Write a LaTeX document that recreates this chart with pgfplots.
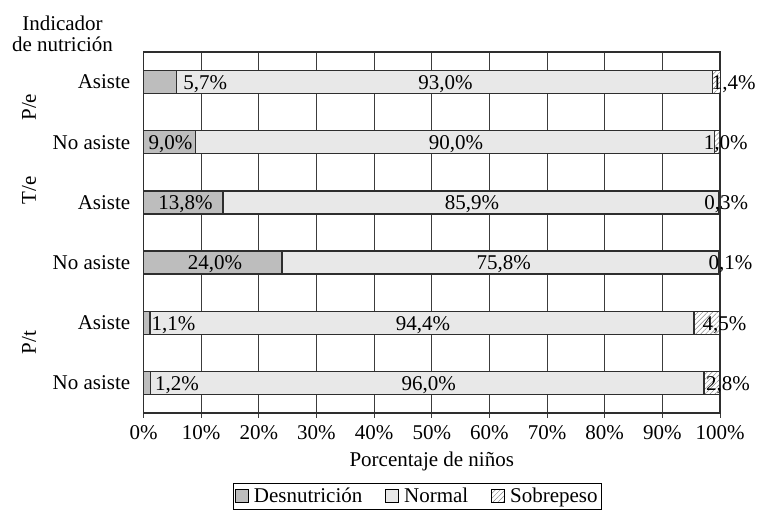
\documentclass[border=0pt]{standalone}
\usepackage{fontspec}
\setmainfont{Liberation Serif}
\usepackage{pgfplots}
\pgfplotsset{compat=1.18}
\usepackage{pgfplotstable}
\usetikzlibrary{patterns.meta}

\definecolor{desn}{HTML}{BDBDBD}
\definecolor{norm}{HTML}{E8E8E8}
\definecolor{borde}{HTML}{2E2E2E}
\definecolor{rejilla}{HTML}{3C3C3C}
\definecolor{rayas}{HTML}{8A8A8A}

% y: 5 = P/e Asiste (arriba) ... 0 = P/t No asiste (abajo)
\pgfplotstableread{
y desn norm sobre
5 5.7 93.0 1.4
4 9.0 90.0 1.0
3 13.8 85.9 0.3
2 24.0 75.8 0.1
1 1.1 94.4 4.5
0 1.2 96.0 2.8
}\datos

% posiciones de las etiquetas (x en %, y fila)
\pgfplotstableread{
x y lab
10.7 5 5,7
52.4 5 93,0
102.4 5 1,4
4.7 4 9,0
54.2 4 90,0
101.0 4 1,0
7.3 3 13,8
57.0 3 85,9
101.1 3 0,3
12.4 2 24,0
62.5 2 75,8
101.8 2 0,1
5.2 1 1,1
48.5 1 94,4
100.8 1 4,5
5.8 0 1,2
49.5 0 96,0
101.4 0 2,8
}\etiquetas

\begin{document}
\fontsize{21pt}{20pt}\selectfont
\begin{tikzpicture}
\begin{axis}[
    name=ax,
    width=576.5pt, height=361pt, scale only axis,
    xmin=0, xmax=100, ymin=-0.5, ymax=5.5,
    xbar stacked, bar width=23pt,
    clip=false,
    xtick={0,10,...,100},
    xticklabel={\pgfmathprintnumber{\tick}\%},
    /pgf/number format/assume math mode=true,
    xtick pos=bottom, xtick align=outside,
    major tick length=5pt,
    x tick style={draw=rejilla, line width=0.9pt},
    xmajorgrids,
    grid style={draw=rejilla, line width=0.9pt},
    ytick={0,...,5},
    yticklabels={No asiste,Asiste,No asiste,Asiste,No asiste,Asiste},
    y tick style={draw=none},
    yticklabel style={xshift=-6pt},
    axis line style={draw=borde, line width=1.2pt},
    xlabel={Porcentaje de niños},
    xlabel style={at={(axis description cs:0.5,-0.135)}, anchor=center},
    area legend,
    legend columns=3,
    legend style={at={(0.475,-0.194)}, anchor=north,
        draw=black, line width=0.8pt, inner sep=1.5pt,
        nodes={inner sep=2.5pt},
        /tikz/every odd column/.append style={column sep=3pt},
        /tikz/every even column/.append style={column sep=20pt}},
    legend image code/.code={\draw[#1, line width=0.8pt, draw=black] (0pt,-6.5pt) rectangle (13pt,6.5pt);},
]
\addplot[fill=desn, draw=borde, line width=1.4pt] table[x=desn, y=y] {\datos};
\addlegendentry{Desnutrición}
\addplot[fill=norm, draw=borde, line width=1.4pt] table[x=norm, y=y] {\datos};
\addlegendentry{Normal}
\addplot[fill=white, draw=borde, line width=1.4pt,
    postaction={pattern color=rayas, pattern={Lines[angle=45, distance=3.5pt, line width=0.5pt]}}]
    table[x=sobre, y=y] {\datos};
\addlegendentry{Sobrepeso}

\node[rotate=90] at ([xshift=-114.5pt]axis cs:0,4.583) {P/e};
\node[rotate=90] at ([xshift=-114.5pt]axis cs:0,3.2) {T/e};
\node[rotate=90] at ([xshift=-114.5pt]axis cs:0,0.667) {P/t};
\node[anchor=base] at ([xshift=-81pt, yshift=21pt]rel axis cs:0,1) {Indicador};
\node[anchor=base] at ([xshift=-81pt, yshift=0.3pt]rel axis cs:0,1) {de nutrición};
\end{axis}

\begin{axis}[
    at={(ax.south west)}, anchor=south west,
    width=576.5pt, height=361pt, scale only axis,
    xmin=0, xmax=100, ymin=-0.5, ymax=5.5,
    hide axis, clip=false,
]
\addplot[draw=none, mark=none, nodes near coords={\pgfplotspointmeta\%},
    point meta=explicit symbolic,
    nodes near coords style={anchor=center, inner sep=0pt, yshift=-2pt, text=black}]
    table[x=x, y=y, meta=lab] {\etiquetas};
\end{axis}

\pgfresetboundingbox
\path ([shift={(-143.5pt,-97pt)}]ax.south west) rectangle ([shift={(38pt,52pt)}]ax.north east);
\end{tikzpicture}
\end{document}
